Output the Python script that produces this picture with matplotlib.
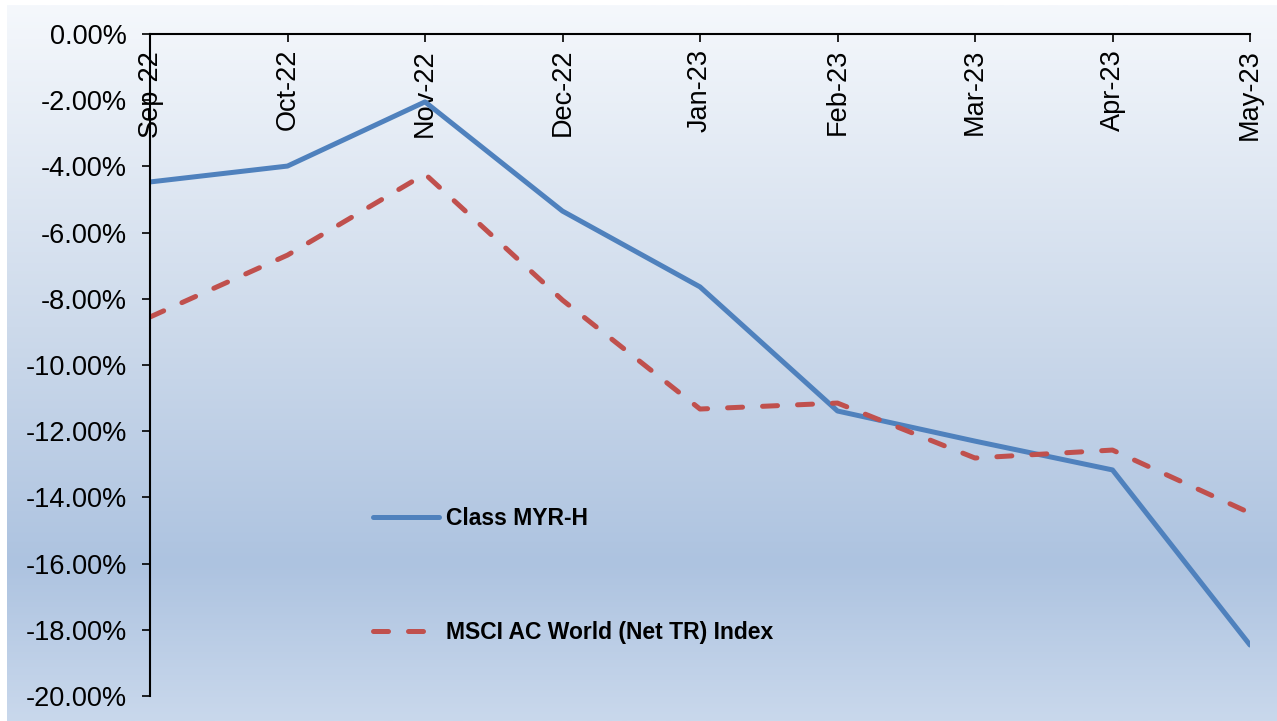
import numpy as np
import matplotlib
matplotlib.use('Agg')
import matplotlib.pyplot as plt
from matplotlib.colors import LinearSegmentedColormap

plt.rcParams['font.family'] = ['Liberation Sans', 'DejaVu Sans']

months = ['Sep-22', 'Oct-22', 'Nov-22', 'Dec-22', 'Jan-23', 'Feb-23', 'Mar-23', 'Apr-23', 'May-23']
class_myr_h = [-4.47, -3.99, -2.05, -5.35, -7.64, -11.39, -12.30, -13.17, -18.46]
msci_acwi = [-8.55, -6.68, -4.23, -8.04, -11.33, -11.15, -12.81, -12.57, -14.47]
y_ticks = np.arange(-20, 1, 2)

W, H = 1277, 721
fig = plt.figure(figsize=(W / 100, H / 100), dpi=100)
fig.patch.set_facecolor('white')

# gradient background (white at top -> blue -> lighter blue at bottom)
bg = fig.add_axes([7 / W, 0, 1 - 7 / W, 1 - 5 / H], zorder=0)
cmap = LinearSegmentedColormap.from_list('bg', [
    (0.0, '#f5f8fc'), (0.45, '#cddaeb'), (0.78, '#adc3e0'), (1.0, '#c9d8ec')])
grad = np.linspace(0, 1, 256).reshape(-1, 1)
bg.imshow(grad, aspect='auto', cmap=cmap, extent=[0, 1, 1, 0])
bg.axis('off')

ax = fig.add_axes([150 / W, 1 - 696 / H, (1250 - 150) / W, (696 - 34) / H], zorder=1)
ax.patch.set_alpha(0)

x = np.arange(len(months))
ax.plot(x, class_myr_h, color='#4f81bd', lw=3.6, solid_capstyle='round',
        solid_joinstyle='round', label='Class MYR-H')
ax.plot(x, msci_acwi, color='#c0504d', lw=3.6, linestyle=(0, (3, 4)),
        dash_capstyle='round', label='MSCI AC World (Net TR) Index')

ax.spines['right'].set_visible(False)
ax.spines['top'].set_visible(False)
ax.spines['bottom'].set_position(('data', 0))
ax.spines['left'].set_linewidth(1.5)
ax.spines['bottom'].set_linewidth(1.5)

ax.set_xlim(0, len(months) - 1)
ax.set_ylim(-20, 0)
ax.set_yticks(y_ticks)
ax.set_yticklabels([f'{abs(v) if v == 0 else v:.2f}%' for v in y_ticks])
ax.set_xticks(x)
ax.set_xticklabels(months, rotation=90, va='top', ha='center')

ax.tick_params(axis='y', direction='out', length=5.8, width=1.2, pad=11, labelsize=19.5)
ax.tick_params(axis='x', direction='out', length=5.8, width=1.2, pad=5, labelsize=19.5)

fig.legend(loc='upper left', bbox_to_anchor=(373 / W, 1 - 507 / H),
           frameon=False, borderpad=0, borderaxespad=0, handlelength=2.9,
           handletextpad=0.3, labelspacing=3.95,
           prop={'weight': 'bold', 'size': 16.5})

fig.savefig('out.png', dpi=100)
